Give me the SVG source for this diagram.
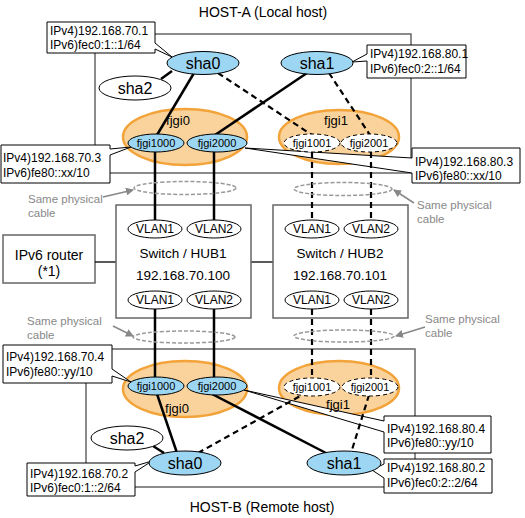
<svg xmlns="http://www.w3.org/2000/svg" width="525" height="518" viewBox="0 0 525 518">
<style>
text{font-family:"Liberation Sans",Arial,sans-serif;fill:#000}
.host{fill:none;stroke:#666;stroke-width:1.5}
.box{fill:#fff;stroke:#666;stroke-width:1.5}
.call{fill:#fff;stroke:#000;stroke-width:1}
.ct{font-size:12px}
.grp{fill:#fad39c;stroke:#f2a33a;stroke-width:2.5}
.blue{fill:#9dd6f2;stroke:#000;stroke-width:1}
.wht{fill:#fff;stroke:#000;stroke-width:1}
.dwh{fill:#fff;stroke:#000;stroke-width:1;stroke-dasharray:4,3}
.sol{stroke:#000;stroke-width:2.5;fill:none}
.dsh{stroke:#000;stroke-width:2.2;fill:none;stroke-dasharray:6,4}
.thin{stroke:#000;stroke-width:1.3;fill:none}
.cab{fill:none;stroke:#999;stroke-width:1.5;stroke-dasharray:4,2}
.gar{stroke:#888;stroke-width:1.5;fill:none}
.gt{font-size:11.5px;fill:#888}
.sha{font-size:16px;text-anchor:middle}
.if{font-size:11px;text-anchor:middle}
.lab{font-size:13px;text-anchor:middle}
.vl{font-size:12px;text-anchor:middle}
.sw{font-size:13.5px;text-anchor:middle}
</style>
<defs>
<marker id="ga" markerWidth="8" markerHeight="8" refX="7" refY="4" orient="auto" markerUnits="userSpaceOnUse"><path d="M0,0 L8,4 L0,8 Z" fill="#888"/></marker>
</defs>

<g id="host-a">
<rect class="host" x="95" y="34" width="316" height="139"/>
<text x="263" y="17" font-size="14" text-anchor="middle">HOST-A (Local host)</text>
</g>
<g id="host-b">
<rect class="host" x="86" y="349" width="329" height="138"/>
<text x="262" y="512" font-size="14" text-anchor="middle">HOST-B (Remote host)</text>
</g>

<g id="router">
<rect class="box" x="3" y="235" width="92" height="48"/>
<text x="49" y="260" font-size="14" text-anchor="middle">IPv6 router</text>
<text x="49" y="276" font-size="14" text-anchor="middle">(*1)</text>
</g>

<g id="router-links">
<line class="thin" x1="95" y1="262" x2="116" y2="262"/>
<line class="thin" x1="251" y1="262" x2="273" y2="262"/>
</g>

<g id="hub1">
<rect class="box" x="116" y="205" width="135" height="113"/>
<text class="sw" x="183" y="258">Switch / HUB1</text>
<text class="sw" x="183" y="280">192.168.70.100</text>
</g>
<g id="hub2">
<rect class="box" x="273" y="205" width="135" height="113"/>
<text class="sw" x="340" y="258">Switch / HUB2</text>
<text class="sw" x="340" y="280">192.168.70.101</text>
</g>

<g id="fjgi0-a"><ellipse class="grp" cx="185" cy="137" rx="62" ry="28"/><text class="lab" x="178" y="125">fjgi0</text></g>
<g id="fjgi1-a"><ellipse class="grp" cx="339" cy="137" rx="60" ry="27"/><text class="lab" x="336" y="125">fjgi1</text></g>
<g id="fjgi0-b"><ellipse class="grp" cx="185" cy="389" rx="62" ry="28"/><text class="lab" x="177" y="413">fjgi0</text></g>
<g id="fjgi1-b"><ellipse class="grp" cx="339" cy="388" rx="60" ry="27"/></g>

<g id="callout-a-sha0">
<path class="call" d="M47,22 H155 V43 L172,57 L155,49 V53 H47 Z"/>
<text class="ct" x="50" y="35">IPv4)192.168.70.1</text>
<text class="ct" x="50" y="49">IPv6)fec0:1::1/64</text>
</g>
<g id="callout-a-sha1">
<path class="call" d="M367,45 H466 V78 H367 V61 L352,62 L367,54 Z"/>
<text class="ct" x="370" y="58">IPv4)192.168.80.1</text>
<text class="ct" x="370" y="73">IPv6)fec0:2::1/64</text>
</g>
<g id="callout-a-fjgi1000">
<path class="call" d="M1,145 H110 V149 L131,147 L110,155 V183 H1 Z"/>
<text class="ct" x="3" y="162">IPv4)192.168.70.3</text>
<text class="ct" x="3" y="177">IPv6)fe80::xx/10</text>
</g>
<g id="callout-a-fjgi2000">
<path class="call" d="M412,148 H520 V183 H412 V173 L245,148 L412,158 Z"/>
<text class="ct" x="415" y="166">IPv4)192.168.80.3</text>
<text class="ct" x="415" y="180">IPv6)fe80::xx/10</text>
</g>
<g id="callout-b-fjgi1000">
<path class="call" d="M3,345 H112 V369 L131,382 L112,376 V383 H3 Z"/>
<text class="ct" x="6" y="361">IPv4)192.168.70.4</text>
<text class="ct" x="6" y="376">IPv6)fe80::yy/10</text>
</g>
<g id="callout-b-sha0">
<path class="call" d="M27,463 H135 V466 L152,461 L135,472 V496 H27 Z"/>
<text class="ct" x="30" y="478">IPv4)192.168.70.2</text>
<text class="ct" x="30" y="492">IPv6)fec0:1::2/64</text>
</g>
<g id="callout-b-fjgi2000">
<path class="call" d="M384,416 H491 V453 H384 V432 L244,390 L384,421 Z"/>
<text class="ct" x="387" y="433">IPv4)192.168.80.4</text>
<text class="ct" x="387" y="447">IPv6)fe80::yy/10</text>
</g>
<g id="callout-b-sha1">
<path class="call" d="M384,459 H492 V493 H384 V478 L372,470 L384,464 Z"/>
<text class="ct" x="387" y="472">IPv4)192.168.80.2</text>
<text class="ct" x="387" y="487">IPv6)fec0:2::2/64</text>
</g>

<g id="fjgi1-b-label"><text class="lab" x="338" y="409">fjgi1</text></g>

<g id="connectors">
<line class="sol" x1="172" y1="71" x2="161" y2="79"/>
<line class="sol" x1="194" y1="73" x2="157" y2="135"/>
<line class="dsh" x1="218" y1="73" x2="312" y2="135"/>
<line class="sol" x1="307" y1="73" x2="215" y2="135"/>
<line class="dsh" x1="329" y1="73" x2="370" y2="135"/>
<line class="sol" x1="155" y1="152" x2="155" y2="220"/>
<line class="sol" x1="214" y1="152" x2="214" y2="220"/>
<line class="dsh" x1="312" y1="152" x2="312" y2="220"/>
<line class="dsh" x1="371" y1="152" x2="371" y2="220"/>
<line class="sol" x1="155" y1="309" x2="155" y2="378"/>
<line class="sol" x1="214" y1="309" x2="214" y2="378"/>
<line class="dsh" x1="312" y1="309" x2="312" y2="378"/>
<line class="dsh" x1="371" y1="309" x2="371" y2="378"/>
<line class="sol" x1="157" y1="394" x2="177" y2="453"/>
<line class="sol" x1="153" y1="446" x2="164" y2="453"/>
<line class="dsh" x1="198" y1="453" x2="302" y2="395"/>
<line class="sol" x1="212" y1="394" x2="326" y2="453"/>
<line class="dsh" x1="369" y1="395" x2="351" y2="453"/>
<ellipse class="cab" cx="185" cy="188" rx="51" ry="6.5"/>
<ellipse class="cab" cx="343" cy="189" rx="49" ry="6.5"/>
<ellipse class="cab" cx="184" cy="337" rx="51" ry="6"/>
<ellipse class="cab" cx="344" cy="336" rx="50" ry="6"/>
<line class="gar" x1="103" y1="197" x2="133" y2="190" marker-end="url(#ga)"/>
<line class="gar" x1="414" y1="203" x2="394" y2="190" marker-end="url(#ga)"/>
<line class="gar" x1="113" y1="326" x2="133" y2="336" marker-end="url(#ga)"/>
<line class="gar" x1="425" y1="327" x2="396" y2="336" marker-end="url(#ga)"/>
</g>

<g id="cable-labels">
<text class="gt" x="28" y="203">Same physical</text><text class="gt" x="28" y="217">cable</text>
<text class="gt" x="417" y="209">Same physical</text><text class="gt" x="417" y="223">cable</text>
<text class="gt" x="27" y="325">Same physical</text><text class="gt" x="27" y="339">cable</text>
<text class="gt" x="425" y="323">Same physical</text><text class="gt" x="425" y="337">cable</text>
</g>

<g id="vlan-hub1">
<ellipse class="wht" cx="155" cy="229" rx="27" ry="9"/><text class="vl" x="155" y="233">VLAN1</text>
<ellipse class="wht" cx="214" cy="229" rx="27" ry="9"/><text class="vl" x="214" y="233">VLAN2</text>
<ellipse class="wht" cx="155" cy="300" rx="27" ry="9"/><text class="vl" x="155" y="304">VLAN1</text>
<ellipse class="wht" cx="214" cy="300" rx="27" ry="9"/><text class="vl" x="214" y="304">VLAN2</text>
</g>
<g id="vlan-hub2">
<ellipse class="wht" cx="312" cy="229" rx="27" ry="9"/><text class="vl" x="312" y="233">VLAN1</text>
<ellipse class="wht" cx="371" cy="229" rx="27" ry="9"/><text class="vl" x="371" y="233">VLAN2</text>
<ellipse class="wht" cx="312" cy="300" rx="27" ry="9"/><text class="vl" x="312" y="304">VLAN1</text>
<ellipse class="wht" cx="371" cy="300" rx="27" ry="9"/><text class="vl" x="371" y="304">VLAN2</text>
</g>

<g id="sha0-a"><ellipse class="blue" cx="203" cy="63" rx="36" ry="11.5"/><text class="sha" x="203" y="69">sha0</text></g>
<g id="sha1-a"><ellipse class="blue" cx="317" cy="63" rx="36" ry="11.5"/><text class="sha" x="317" y="69">sha1</text></g>
<g id="sha2-a"><ellipse class="wht" cx="135" cy="88" rx="36" ry="12"/><text class="sha" x="135" y="94">sha2</text></g>
<g id="fjgi1000-a"><ellipse class="blue" cx="156" cy="143" rx="28" ry="9"/><text class="if" x="156" y="147">fjgi1000</text></g>
<g id="fjgi2000-a"><ellipse class="blue" cx="217" cy="143" rx="30" ry="9"/><text class="if" x="217" y="147">fjgi2000</text></g>
<g id="fjgi1001-a"><ellipse class="dwh" cx="312" cy="143" rx="28" ry="9"/><text class="if" x="312" y="147">fjgi1001</text></g>
<g id="fjgi2001-a"><ellipse class="dwh" cx="369" cy="143" rx="28" ry="9"/><text class="if" x="369" y="147">fjgi2001</text></g>

<g id="fjgi1000-b"><ellipse class="blue" cx="156" cy="386" rx="28" ry="9"/><text class="if" x="156" y="390">fjgi1000</text></g>
<g id="fjgi2000-b"><ellipse class="blue" cx="217" cy="386" rx="30" ry="9"/><text class="if" x="217" y="390">fjgi2000</text></g>
<g id="fjgi1001-b"><ellipse class="dwh" cx="312" cy="387" rx="28" ry="9"/><text class="if" x="312" y="391">fjgi1001</text></g>
<g id="fjgi2001-b"><ellipse class="dwh" cx="370" cy="387" rx="28" ry="9"/><text class="if" x="370" y="391">fjgi2001</text></g>
<g id="sha2-b"><ellipse class="wht" cx="127" cy="438" rx="36" ry="12"/><text class="sha" x="127" y="444">sha2</text></g>
<g id="sha0-b"><ellipse class="blue" cx="185" cy="463" rx="36" ry="12"/><text class="sha" x="185" y="469">sha0</text></g>
<g id="sha1-b"><ellipse class="blue" cx="344" cy="463" rx="37" ry="12"/><text class="sha" x="344" y="469">sha1</text></g>
</svg>
